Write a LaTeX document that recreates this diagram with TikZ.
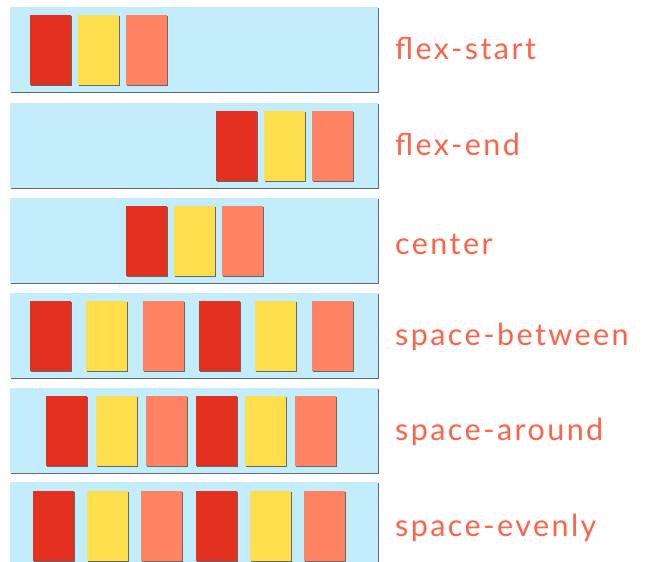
\documentclass[tikz,border=0pt]{standalone}
\usepackage{fontspec}
\setmainfont{Lato}
\newfontfamily\labelfont[LetterSpace=8]{Lato}
\usetikzlibrary{shadows}
\definecolor{boxbg}{HTML}{C4EDFC}
\definecolor{itred}{HTML}{E4301F}
\definecolor{ityellow}{HTML}{FEDF4B}
\definecolor{itsalmon}{HTML}{FF8363}
\definecolor{labelc}{HTML}{FF6347}
\definecolor{shadowc}{HTML}{5E6B70}
\tikzset{
  container/.style={fill=boxbg, draw=none, anchor=north west, inner sep=0pt,
    minimum width=368pt, minimum height=85pt,
    drop shadow={shadow xshift=1.2pt, shadow yshift=-1.2pt, fill=shadowc, opacity=1}},
  item/.style={draw=none, anchor=north west, inner sep=0pt, minimum width=41pt, minimum height=70pt,
    drop shadow={shadow xshift=1.2pt, shadow yshift=-1.2pt, fill=shadowc, opacity=1}},
  r/.style={item, fill=itred},
  yl/.style={item, fill=ityellow},
  sa/.style={item, fill=itsalmon},
  lbl/.style={anchor=base west, inner sep=0pt, text=labelc, font=\labelfont\fontsize{30.5}{33}\selectfont},
}
\begin{document}
\begin{tikzpicture}[x=1pt,y=-1pt]
\useasboundingbox (0,0) rectangle (651,562);
% containers
\node[container] (c1) at (10,7) {};
\node[container] (c2) at (10,103) {};
\node[container] (c3) at (10,198) {};
\node[container] (c4) at (10,293) {};
\node[container] (c5) at (10,388) {};
\node[container] (c6) at (10,482) {};
% row 1 flex-start
\node[r]  (a1) at (30,15) {};
\node[yl] (a2) at (78,15) {};
\node[sa] (a3) at (126,15) {};
% row 2 flex-end
\node[r]  (b1) at (216,111) {};
\node[yl] (b2) at (264,111) {};
\node[sa] (b3) at (312,111) {};
% row 3 center
\node[r]  (d1) at (126,206) {};
\node[yl] (d2) at (174,206) {};
\node[sa] (d3) at (222,206) {};
% row 4 space-between
\node[r]  (e1) at (30,301) {};
\node[yl] (e2) at (86,301) {};
\node[sa] (e3) at (143,301) {};
\node[r]  (e4) at (199,301) {};
\node[yl] (e5) at (255,301) {};
\node[sa] (e6) at (312,301) {};
% row 5 space-around
\node[r]  (f1) at (46,396) {};
\node[yl] (f2) at (96,396) {};
\node[sa] (f3) at (146,396) {};
\node[r]  (f4) at (196,396) {};
\node[yl] (f5) at (245,396) {};
\node[sa] (f6) at (295,396) {};
% row 6 space-evenly
\node[r]  (g1) at (33,491) {};
\node[yl] (g2) at (87,491) {};
\node[sa] (g3) at (141,491) {};
\node[r]  (g4) at (196,491) {};
\node[yl] (g5) at (250,491) {};
\node[sa] (g6) at (304,491) {};
% labels
\node[lbl] (l1) at (395,59) {flex-start};
\node[lbl] (l2) at (395,155) {flex-end};
\node[lbl] (l3) at (395,254) {center};
\node[lbl] (l4) at (395,345) {space-between};
\node[lbl] (l5) at (395,440) {space-around};
\node[lbl] (l6) at (395,536) {space-evenly};
\end{tikzpicture}
\end{document}
